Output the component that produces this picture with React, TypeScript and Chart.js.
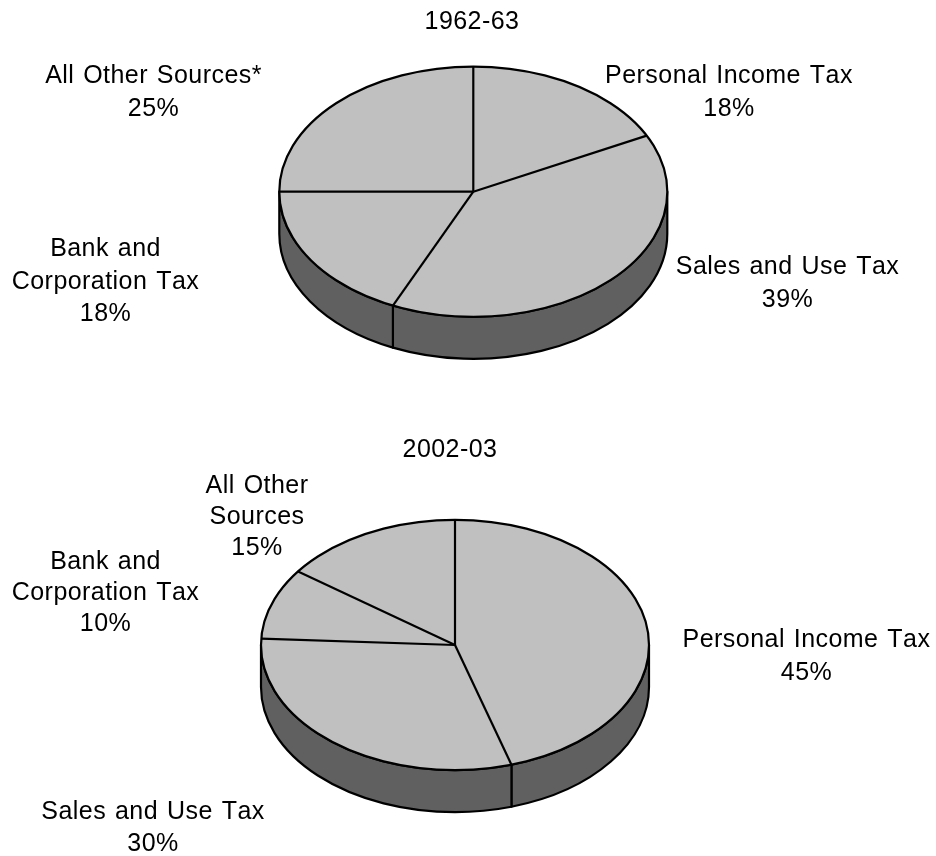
import React, { useEffect, useRef } from "react";
import { Chart, registerables } from "chart.js";

Chart.register(...registerables);

const titles = ["1962-63", "2002-03"];
const categories1962 = ["Personal Income Tax", "Sales and Use Tax", "Bank and\nCorporation Tax", "All Other Sources*"];
const categories2002 = ["Personal Income Tax", "Sales and Use Tax", "Bank and\nCorporation Tax", "All Other\nSources"];
const percentLabels1962 = ["18%", "39%", "18%", "25%"];
const percentLabels2002 = ["45%", "30%", "10%", "15%"];
const values1962 = [17.6, 39.2, 18.2, 25];
const values2002 = [45.3, 30.5, 9.2, 15];

const FONT = '25px "Liberation Sans", Arial, sans-serif';
const TOP_COLOR = "#c0c0c0";
const WALL_COLOR = "#606060";
const SQUASH = 0.645;
const DEPTH = 42;
const STROKE = 2.2;

type Layout = {
  top: number;
  padding: { left: number; right: number; top: number; bottom: number };
  titlePos: [number, number];
  labelPos: [number, number, number][];
};

const layouts: Layout[] = [
  {
    top: 0,
    padding: { left: 10.6, right: 0, top: 0, bottom: 44.6 },
    titlePos: [472, 29],
    labelPos: [[729, 83, 32.6], [787.5, 274, 32.6], [105.5, 256, 32.6], [153.5, 83, 32.6]],
  },
  {
    top: 428,
    padding: { left: 0, right: 26, top: 6, bottom: 0 },
    titlePos: [450, 457],
    labelPos: [[806.5, 647, 32.6], [153, 818.5, 32.6], [105.5, 568.5, 31.2], [257, 492.7, 31.2]],
  },
];

function makePlugin(layout: Layout, title: string, cats: string[], pcts: string[]) {
  return {
    id: "pie3d",
    beforeDatasetsDraw(chart: any) {
      const { ctx } = chart;
      const arcs = chart.getDatasetMeta(0).data;
      const cx = arcs[0].x;
      const cy = arcs[0].y;
      const r = arcs[0].outerRadius;
      const ry = r * SQUASH;
      ctx.save();
      ctx.fillStyle = WALL_COLOR;
      ctx.strokeStyle = "#000";
      ctx.lineWidth = STROKE;
      ctx.lineJoin = "round";
      arcs.forEach((arc: any) => {
        const a0 = Math.max(arc.startAngle, 0);
        const a1 = Math.min(arc.endAngle, Math.PI);
        if (a1 <= a0) return;
        ctx.beginPath();
        ctx.ellipse(cx, cy, r, ry, 0, a0, a1, false);
        ctx.ellipse(cx, cy + DEPTH, r, ry, 0, a1, a0, true);
        ctx.closePath();
        ctx.fill();
        ctx.stroke();
      });
      ctx.restore();
      ctx.save();
      ctx.translate(cx, cy);
      ctx.scale(1, SQUASH);
      ctx.translate(-cx, -cy);
    },
    afterDatasetsDraw(chart: any) {
      const { ctx } = chart;
      ctx.restore();
      const arcs = chart.getDatasetMeta(0).data;
      const cx = arcs[0].x;
      const cy = arcs[0].y;
      const r = arcs[0].outerRadius;
      const ry = r * SQUASH;
      ctx.save();
      ctx.strokeStyle = "#000";
      ctx.lineWidth = STROKE;
      ctx.lineJoin = "round";
      ctx.beginPath();
      ctx.ellipse(cx, cy, r, ry, 0, 0, Math.PI * 2);
      ctx.stroke();
      arcs.forEach((arc: any) => {
        ctx.beginPath();
        ctx.moveTo(cx, cy);
        ctx.lineTo(cx + r * Math.cos(arc.startAngle), cy + ry * Math.sin(arc.startAngle));
        ctx.stroke();
      });
      ctx.restore();
      ctx.save();
      ctx.font = FONT;
      ctx.fontKerning = "none";
      ctx.letterSpacing = "0.45px";
      ctx.wordSpacing = "1.5px";
      ctx.fillStyle = "#000";
      ctx.textAlign = "center";
      ctx.textBaseline = "alphabetic";
      ctx.fillText(title, layout.titlePos[0], layout.titlePos[1] - layout.top);
      cats.forEach((c, i) => {
        const lines = [...c.split("\n"), pcts[i]];
        const [x, y, gap] = layout.labelPos[i];
        lines.forEach((t, j) => ctx.fillText(t, x, y - layout.top + j * gap));
      });
      ctx.restore();
    },
  };
}

function Pie({ index, cats, pcts, values }: { index: number; cats: string[]; pcts: string[]; values: number[] }) {
  const ref = useRef<HTMLCanvasElement>(null);
  const layout = layouts[index];
  useEffect(() => {
    const chart = new Chart(ref.current as HTMLCanvasElement, {
      type: "pie",
      data: {
        labels: cats,
        datasets: [
          {
            data: values,
            backgroundColor: TOP_COLOR,
            borderWidth: 0,
            clip: false,
          } as any,
        ],
      },
      options: {
        animation: false,
        responsive: false,
        radius: 194,
        layout: { padding: layout.padding },
        plugins: { legend: { display: false }, tooltip: { enabled: false } },
      } as any,
      plugins: [makePlugin(layout, titles[index], cats, pcts)],
    });
    return () => chart.destroy();
  }, []);
  return (
    <canvas
      ref={ref}
      width={936}
      height={428}
      style={{ position: "absolute", left: 0, top: layout.top, width: 936, height: 428 }}
    />
  );
}

export default function App() {
  return (
    <>
      <Pie index={0} cats={categories1962} pcts={percentLabels1962} values={values1962} />
      <Pie index={1} cats={categories2002} pcts={percentLabels2002} values={values2002} />
    </>
  );
}
